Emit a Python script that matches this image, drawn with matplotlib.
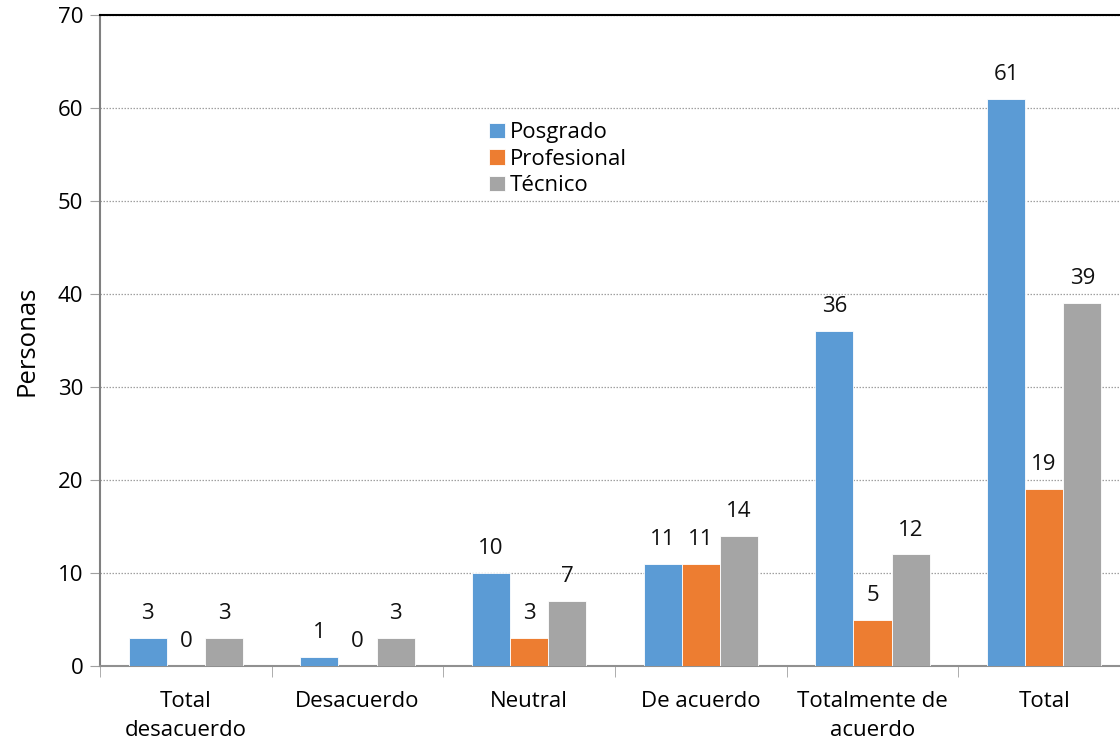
import matplotlib
matplotlib.use("Agg")
import matplotlib.pyplot as plt
import numpy as np

categories = ["Total\ndesacuerdo", "Desacuerdo", "Neutral", "De acuerdo",
              "Totalmente de\nacuerdo", "Total"]
series_names = ["Posgrado", "Profesional", "Técnico"]
posgrado = [3, 1, 10, 11, 36, 61]
profesional = [0, 0, 3, 11, 5, 19]
tecnico = [3, 3, 7, 14, 12, 39]
colors = ["#5B9BD5", "#ED7D31", "#A5A5A5"]

plt.rcParams['font.family'] = ['Open Sans', 'DejaVu Sans']
FS = 16

fig = plt.figure(figsize=(11.2, 7.48), dpi=100)
# axes run past the right edge of the canvas
ax = fig.add_axes([100/1120, (748-666)/748, 1030/1120, (666-15)/748])

x = np.arange(len(categories))
width = 0.222
values = [posgrado, profesional, tecnico]
for i, (name, vals, c) in enumerate(zip(series_names, values, colors)):
    ax.bar(x + (i - 1) * width, vals, width, color=c, label=name,
           edgecolor="white", linewidth=0.6, zorder=3)
    for xi, v in zip(x + (i - 1) * width, vals):
        ax.annotate(str(v), (xi, v), xytext=(0, 10), textcoords="offset points",
                    ha="center", va="bottom", fontsize=FS, color="#111111")

ax.set_xlim(-0.5, len(categories) - 0.5)
ax.set_ylim(0, 70)
ax.set_yticks(range(0, 71, 10))
ax.tick_params(axis="y", labelsize=FS, length=7, color="#A0A0A0", pad=5)
ax.set_xticks(x)
ax.set_xticklabels(categories, fontsize=FS, linespacing=1.5)
ax.tick_params(axis="x", length=0, pad=18)
ax.set_xticks(np.arange(len(categories) + 1) - 0.5, minor=True)
ax.tick_params(axis="x", which="minor", length=8, color="#A0A0A0")

ax.yaxis.grid(True, linestyle=(0, (1.2, 1.2)), color="#A0A0A0", linewidth=0.9, zorder=0)
ax.set_axisbelow(True)

ax.spines["top"].set_color("black")
ax.spines["top"].set_linewidth(1.5)
ax.spines["left"].set_color("#808080")
ax.spines["left"].set_linewidth(1.5)
ax.spines["bottom"].set_color("#909090")
ax.spines["bottom"].set_linewidth(1.5)
ax.spines["right"].set_visible(False)

ax.set_ylabel("Personas", fontsize=18.5, labelpad=13)

ax.legend(loc="upper left", bbox_to_anchor=(378/1030, (666-111)/651),
          frameon=False, fontsize=FS, handlelength=0.7, handleheight=0.7,
          handletextpad=0.25, labelspacing=0.25, borderpad=0)

fig.savefig("out.png", dpi=100)
